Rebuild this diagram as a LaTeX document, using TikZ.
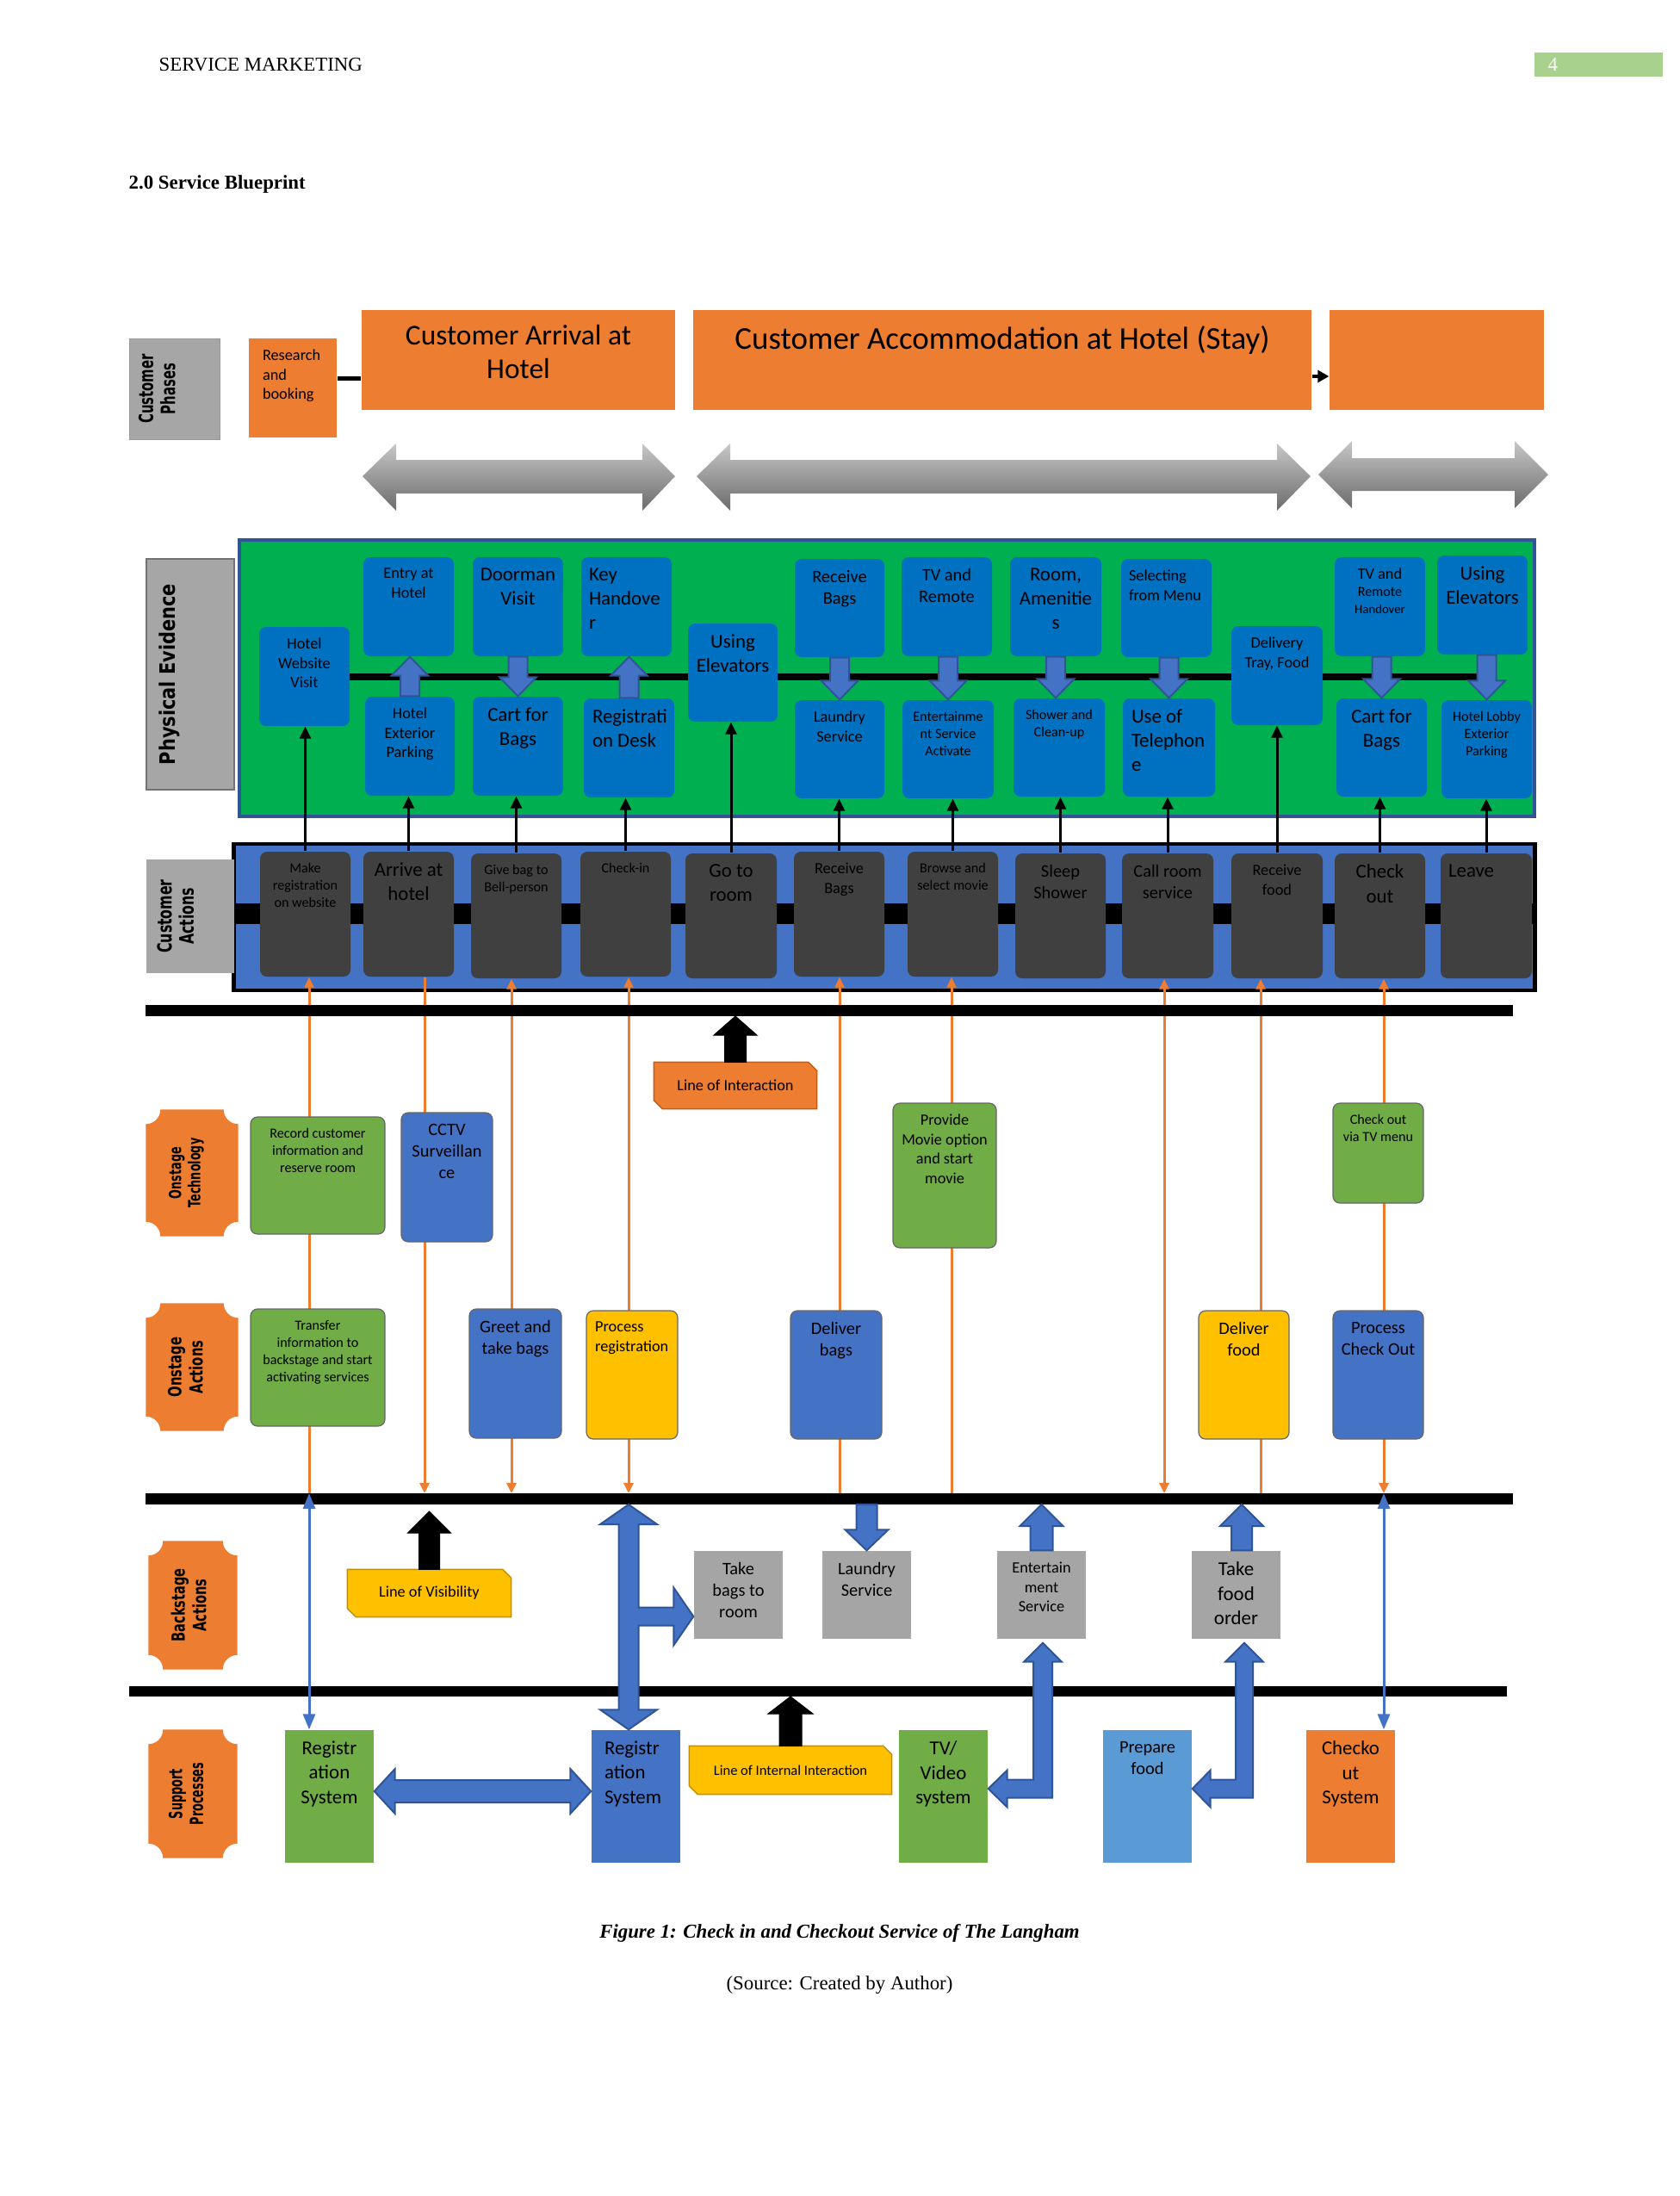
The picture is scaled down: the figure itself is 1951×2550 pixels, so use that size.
\documentclass[tikz,border=0pt]{standalone}
\usepackage{fontspec}
\usepackage{graphicx}
\setmainfont{Liberation Serif}
\newfontfamily\calib{Carlito}
\newfontfamily\dejav{DejaVu Sans}
\usetikzlibrary{arrows.meta,calc}
\definecolor{orng}{HTML}{ED7D31}
\definecolor{orngd}{HTML}{C55A11}
\definecolor{lgray}{HTML}{A6A6A6}
\definecolor{pegreen}{HTML}{00B050}
\definecolor{peblue}{HTML}{0070C0}
\definecolor{bblue}{HTML}{4472C4}
\definecolor{dblue}{HTML}{2F5597}
\definecolor{dgray}{HTML}{404040}
\definecolor{ogreen}{HTML}{70AD47}
\definecolor{yell}{HTML}{FFC000}
\definecolor{yelld}{HTML}{BF9000}
\definecolor{bgray}{HTML}{A5A5A5}
\definecolor{lblue}{HTML}{5B9BD5}
\definecolor{pgreen}{HTML}{A9D18E}
\pgfdeclarelayer{L0}\pgfdeclarelayer{L1}\pgfsetlayers{L0,L1,main}
\newcommand\fzA{\calib\fontsize{6.5}{8}\selectfont}
\newcommand\fzB{\calib\fontsize{5.8}{7.1}\selectfont}
\newcommand\fzC{\calib\fontsize{5.2}{6.4}\selectfont}
\newcommand\fzD{\calib\fontsize{4.6}{5.7}\selectfont}
\newcommand\fzL[2]{\dejav\bfseries\fontsize{#1}{#2}\selectfont}
\tikzset{
 tA/.style={font=\fzA}, tB/.style={font=\fzB}, tC/.style={font=\fzC}, tD/.style={font=\fzD},
 txt/.style={anchor=north, align=center, inner sep=0pt, text=black},
 txtl/.style={anchor=north west, align=left, inner sep=0pt, text=black},
 phbox/.style={fill=orng, inner sep=0pt},
 pebox/.style={fill=peblue, rounded corners=0.08cm, inner sep=0pt},
 cabox/.style={fill=dgray, rounded corners=0.08cm, inner sep=0pt},
 ogbox/.style={fill=ogreen, draw=black!60, line width=0.012cm, rounded corners=0.08cm, inner sep=0pt},
 obbox/.style={fill=bblue, draw=black!60, line width=0.012cm, rounded corners=0.08cm, inner sep=0pt},
 oybox/.style={fill=yell, draw=black!60, line width=0.012cm, rounded corners=0.08cm, inner sep=0pt},
 bsbox/.style={fill=bgray, inner sep=0pt},
 spg/.style={fill=ogreen, inner sep=0pt},
 spb/.style={fill=bblue, inner sep=0pt},
 spl/.style={fill=lblue, inner sep=0pt},
 spo/.style={fill=orng, inner sep=0pt},
 glabel/.style={fill=lgray, inner sep=0pt},
 blk/.style={fill=bblue, draw=dblue, line width=0.02cm},
 blkk/.style={fill=black, draw=black, line width=0.01cm},
 hline/.style={line width=0.13cm},
 otip/.tip={Triangle[length=0.12cm,width=0.11cm]},
 ktip/.tip={Triangle[length=0.14cm,width=0.13cm]},
 btip/.tip={Triangle[length=0.18cm,width=0.14cm]},
 bar/.style={line width=0.03cm, -ktip},
 oline/.style={draw=orng, line width=0.03cm},
 bline/.style={draw=bblue, line width=0.03cm, btip-btip},
}
\newcommand\bx[8]{%
  \node[#6,minimum width={(#4-#2)*0.01cm},minimum height={(#5-#3)*0.01cm}] (#1) at ({(#2+#4)/2},{(#3+#5)/2}) {};
  \node[txt,#7] (#1-t) at ([yshift=-0.13cm]#1.north) {#8};}
\newcommand\bxl[9]{%
  \node[#6,minimum width={(#4-#2)*0.01cm},minimum height={(#5-#3)*0.01cm}] (#1) at ({(#2+#4)/2},{(#3+#5)/2}) {};
  \node[txtl,#7] (#1-t) at ([xshift=#9,yshift=-0.13cm]#1.north west) {#8};}
\newcommand\glab[9]{%
  \node[#6,minimum width={(#4-#2)*0.01cm},minimum height={(#5-#3)*0.01cm}] (#1) at ({(#2+#4)/2},{(#3+#5)/2}) {};
  \node[rotate=90,inner sep=0pt,font=#8] (#1-t) at ($(#1.center)+(#7,0)$) {#9};}
\newcommand\plaque[8]{%
  \node[inner sep=0pt,minimum width={(#4-#2)*0.01cm},minimum height={(#5-#3)*0.01cm}] (#1) at ({(#2+#4)/2},{(#3+#5)/2}) {};
  \fill[orng] ($(#1.north west)+(17,0)$) -- ($(#1.north east)+(-17,0)$) arc[start angle=180,end angle=270,radius=0.17cm] -- ($(#1.south east)+(0,-17)$) arc[start angle=90,end angle=180,radius=0.17cm] -- ($(#1.south west)+(17,0)$) arc[start angle=0,end angle=90,radius=0.17cm] -- ($(#1.north west)+(0,17)$) arc[start angle=270,end angle=360,radius=0.17cm] -- cycle;
  \node[rotate=90,inner sep=0pt,font=#7] (#1-t) at ($(#1.center)+(#6,0)$) {#8};}
\newcommand\snip[9]{%
  \node[inner sep=0pt,minimum width={(#4-#2)*0.01cm},minimum height={(#5-#3)*0.01cm}] (#1) at ({(#2+#4)/2},{(#3+#5)/2}) {};
  \filldraw[fill=#6,draw=#7,line width=0.015cm] (#1.north west) -- ($(#1.north east)+(-10,0)$) -- ($(#1.north east)+(0,10)$) -- (#1.south east) -- ($(#1.south west)+(10,0)$) -- ($(#1.south west)+(0,-10)$) -- cycle;
  \node[inner sep=0pt,font=#8] (#1-t) at (#1.center) {#9};}
\newcommand\vblk[6]{%
  \coordinate (vt) at (#2); \coordinate (vh) at (#3);
  \draw[#1] ($(vt)+(-#4,0)$) -- ($(vh)+(-#4,#6)$) -- ($(vh)+(-#5,#6)$) -- (vh) -- ($(vh)+(#5,#6)$) -- ($(vh)+(#4,#6)$) -- ($(vt)+(#4,0)$) -- cycle;}
\begin{document}
\begin{tikzpicture}[x=0.01cm,y=-0.01cm]
\useasboundingbox (0,0) rectangle (1951,2550);
\begin{pgfonlayer}{L0}
\fill[white] (0,0) rectangle (1951,2550);
\node[fill=pegreen,draw=dblue,line width=0.04cm,inner sep=0pt,minimum width=15.04cm,minimum height=3.21cm] (pebg) at (1030,787.5) {};
\node[fill=bblue,draw=black,line width=0.045cm,inner sep=0pt,minimum width=15.1cm,minimum height=1.7cm] (cabg) at (1027,1065) {};
\end{pgfonlayer}
% header
\node[anchor=west,inner sep=0pt,font=\fontsize{6.5}{8}\selectfont] (hdr) at (184,75) {SERVICE MARKETING};
\node[fill=pgreen,inner sep=0pt,minimum width=1.49cm,minimum height=0.28cm] (pgbox) at (1856.5,75) {};
\node[anchor=west,inner sep=0pt,text=white,font=\fontsize{6.5}{8}\selectfont] (pgnum) at (1797,75) {4};
\node[anchor=west,inner sep=0pt,font=\bfseries\fontsize{6.5}{8}\selectfont] (ttl) at (149,214) {2.0 Service Blueprint};
% phases
\glab{phlab}{150}{393}{255}{510}{glabel,draw=black!40,line width=0.01cm}{-17}{\fzL{6.5}{7.3}}{\scalebox{0.65}[1]{\begin{tabular}{@{}c@{}}Customer\\Phases\end{tabular}}}
\bxl{research}{289}{393}{391}{508}{phbox}{tC}{Research\\and\\booking}{0.16cm}
\bx{arrival}{420}{360}{784}{476}{phbox}{font={\calib\fontsize{9.5}{11.1}\selectfont},yshift=-0.04cm}{Customer Arrival at\\Hotel}
\bx{stay}{805}{360}{1523}{476}{phbox}{font={\calib\fontsize{10.5}{12.7}\selectfont},yshift=-0.05cm}{Customer Accommodation at Hotel (Stay)}
\bx{depart}{1544}{360}{1793}{476}{phbox}{tC}{}
\coordinate (c1) at ($(research.east)+(0,-11)$);
\draw[line width=0.05cm] (c1) -- (c1 -| arrival.west);
\coordinate (c2) at ($(stay.east)+(0,19)$);
\draw[line width=0.04cm,-{Triangle[length=0.13cm,width=0.14cm]}] (c2) -- (c2 -| depart.west);
\shade[top color=black!22,bottom color=black!58] (421,553) -- (460,515) -- (460,534) -- (746,534) -- (746,515) -- (784,553) -- (746,593) -- (746,573) -- (460,573) -- (460,593) -- cycle;
\shade[top color=black!22,bottom color=black!58] (809,553) -- (848,515) -- (848,534) -- (1483,534) -- (1483,515) -- (1522,553) -- (1483,593) -- (1483,573) -- (848,573) -- (848,593) -- cycle;
\shade[top color=black!22,bottom color=black!58] (1531,551) -- (1570,512) -- (1570,532) -- (1759,532) -- (1759,512) -- (1798,551) -- (1759,590) -- (1759,570) -- (1570,570) -- (1570,590) -- cycle;
% physical evidence
\glab{pelab}{170}{649}{272}{917}{glabel,draw=black!55,line width=0.015cm}{-24}{\fzL{7}{8}}{\scalebox{0.85}[1]{Physical Evidence}}
\bx{peA}{301}{728}{406}{843}{pebox}{tC}{Hotel\\Website\\Visit}
\bx{peB}{422}{647}{527}{762}{pebox}{tC}{Entry at\\Hotel}
\bx{peC}{549}{647}{654}{762}{pebox}{tA}{Doorman\\Visit}
\bxl{peD}{675}{647}{780}{762}{pebox}{tA}{Key\\Handove\\r}{0.09cm}
\bx{peE}{799}{724}{903}{838}{pebox}{tA}{Using\\Elevators}
\bx{peF}{923}{649}{1027}{763}{pebox}{tB}{Receive\\Bags}
\bx{peG}{1047}{647}{1152}{762}{pebox}{tB}{TV and\\Remote}
\bx{peH}{1173}{647}{1279}{762}{pebox}{tA}{Room,\\Amenitie\\s}
\bxl{peI}{1302}{649}{1407}{763}{pebox}{tC}{Selecting\\from Menu}{0.09cm}
\bx{peJ}{1430}{727}{1536}{842}{pebox}{tC}{Delivery\\Tray, Food}
\bx{peK}{1550}{647}{1655}{762}{pebox}{tD}{{\fzC TV and}\\Remote\\{\calib\fontsize{4.2}{5.2}\selectfont Handover}}
\bx{peL}{1669}{645}{1774}{760}{pebox}{tA}{Using\\Elevators}
\bx{pbB}{424}{809}{528}{924}{pebox}{tC}{Hotel\\Exterior\\Parking}
\bx{pbC}{549}{809}{654}{924}{pebox}{tA}{Cart for\\Bags}
\bxl{pbD}{678}{811}{783}{926}{pebox}{tA}{Registrati\\on Desk}{0.1cm}
\bx{pbF}{923}{813}{1027}{927}{pebox}{tC}{Laundry\\Service}
\bx{pbG}{1048}{813}{1154}{927}{pebox}{tD}{Entertainme\\nt Service\\Activate}
\bx{pbH}{1177}{811}{1283}{925}{pebox}{tD}{Shower and\\Clean-up}
\bxl{pbI}{1304}{811}{1411}{925}{pebox}{tA}{Use of\\Telephon\\e}{0.1cm}
\bx{pbK}{1552}{811}{1657}{925}{pebox}{tA}{Cart for\\Bags}
\bx{pbL}{1674}{813}{1779}{927}{pebox}{tD}{Hotel Lobby\\Exterior\\Parking}
\vblk{blk}{pbB.north}{pbB.north |- peB.south}{11}{21.5}{22}
\vblk{blk}{pbD.north}{pbD.north |- peD.south}{11}{21.5}{22}
\vblk{blk}{peC.south}{peC.south |- pbC.north}{11}{21.5}{-22}
\vblk{blk}{peF.south}{peF.south |- pbF.north}{11}{21.5}{-22}
\vblk{blk}{pbG.north |- peG.south}{pbG.north}{11}{21.5}{-22}
\vblk{blk}{peH.south}{peH.south |- pbH.north}{11}{21.5}{-22}
\vblk{blk}{pbI.north |- peI.south}{pbI.north}{11}{21.5}{-22}
\vblk{blk}{pbK.north |- peK.south}{pbK.north}{11}{21.5}{-22}
\vblk{blk}{pbL.north |- peL.south}{pbL.north}{11}{21.5}{-22}
% customer actions
\glab{calab}{170}{998}{272}{1130}{glabel}{-14}{\fzL{6.5}{7.3}}{\scalebox{0.69}[1]{\begin{tabular}{@{}c@{}}Customer\\Actions\end{tabular}}}
\bx{ca1}{302}{989}{407}{1134}{cabox}{tD}{Make\\registration\\on website}
\bx{ca2}{422}{989}{527}{1134}{cabox}{tA}{Arrive at\\hotel}
\bx{ca3}{547}{991}{652}{1136}{cabox}{tD}{Give bag to\\Bell-person}
\bx{ca4}{674}{989}{779}{1134}{cabox}{tD}{Check-in}
\bx{ca5}{796}{991}{902}{1136}{cabox}{tA}{Go to\\room}
\bx{ca6}{922}{989}{1027}{1134}{cabox}{tC}{Receive\\Bags}
\bx{ca7}{1054}{989}{1159}{1134}{cabox}{tD}{Browse and\\select movie}
\bx{ca8}{1179}{991}{1284}{1136}{cabox}{tB}{Sleep\\Shower}
\bx{ca9}{1303}{991}{1409}{1136}{cabox}{tB}{Call room\\service}
\bx{ca10}{1430}{991}{1536}{1136}{cabox}{tC}{Receive\\food}
\bx{ca11}{1550}{991}{1655}{1136}{cabox}{tA}{Check\\out}
\bxl{ca12}{1673}{991}{1779}{1136}{cabox}{tA}{Leave}{0.09cm}
% column coordinates
\coordinate (o1) at ($(ca1.south)+(4.5,0)$);
\coordinate (o2) at ($(ca2.south)+(18.5,0)$);
\coordinate (o3) at ($(ca3.south)+(-5.5,0)$);
\coordinate (o4) at ($(ca4.south)+(3.5,0)$);
\coordinate (o5) at ($(ca6.south)+(0.5,0)$);
\coordinate (o6) at ($(ca7.south)+(-1.5,0)$);
\coordinate (o7) at ($(ca9.south)+(-4,0)$);
\coordinate (o8) at ($(ca10.south)+(-19,0)$);
\coordinate (o9) at ($(ca11.south)+(4.5,0)$);
\coordinate (lov) at (0,1740.5);
\coordinate (lovT) at (0,1734);
\coordinate (lovB) at (0,1747);
\coordinate (lovV) at (0,1755);
\coordinate (loiB) at (0,1180);
\coordinate (liiB) at (0,1970);
% lane labels
\plaque{ontech}{170}{1289}{276}{1435}{-6}{\fzL{5.5}{6.3}}{\scalebox{0.66}[1]{\begin{tabular}{@{}c@{}}Onstage\\Technology\end{tabular}}}
\plaque{onact}{170}{1514}{276}{1661}{-5}{\fzL{6}{7.1}}{\scalebox{0.7}[1]{\begin{tabular}{@{}c@{}}Onstage\\Actions\end{tabular}}}
\plaque{backst}{173}{1790}{275}{1938}{-2}{\fzL{6}{7.1}}{\scalebox{0.69}[1]{\begin{tabular}{@{}c@{}}Backstage\\Actions\end{tabular}}}
\plaque{suppr}{173}{2009}{275}{2157}{-5}{\fzL{6}{6.9}}{\scalebox{0.61}[1]{\begin{tabular}{@{}c@{}}Support\\Processes\end{tabular}}}
% onstage technology
\bx{ot1}{291}{1297}{447}{1433}{ogbox}{tD}{Record customer\\information and\\reserve room}
\bx{ot2}{466}{1292}{572}{1442}{obbox}{tB}{CCTV\\Surveillan\\ce}
\bx{ot3}{1037}{1281}{1157}{1449}{ogbox}{tC}{Provide\\Movie option\\and start\\movie}
\bx{ot4}{1548}{1281}{1653}{1397}{ogbox}{tD}{Check out\\via TV menu}
% onstage actions
\bx{oa1}{291}{1520}{447}{1656}{ogbox}{tD}{Transfer\\information to\\backstage and start\\activating services}
\bx{oa2}{545}{1520}{652}{1670}{obbox}{tB}{Greet and\\take bags}
\bxl{oa3}{681}{1522}{787}{1671}{oybox}{tC}{Process\\registration}{0.1cm}
\bx{oa4}{918}{1522}{1024}{1671}{obbox}{tB}{Deliver\\bags}
\bx{oa5}{1392}{1522}{1497}{1671}{oybox}{tB}{Deliver\\food}
\bx{oa6}{1548}{1522}{1653}{1671}{obbox}{tB}{Process\\Check Out}
% backstage
\bx{bs1}{806}{1801}{909}{1903}{bsbox}{tB}{Take\\bags to\\room}
\bx{bs2}{955}{1801}{1058}{1903}{bsbox}{tB}{Laundry\\Service}
\bx{bs3}{1158}{1801}{1261}{1903}{bsbox}{tC}{Entertain\\ment\\Service}
\bx{bs4}{1384}{1801}{1487}{1903}{bsbox}{tA}{Take\\food\\order}
% support
\bx{sp1}{331}{2009}{434}{2163}{spg}{tA}{Registr\\ation\\System}
\bxl{sp2}{687}{2009}{790}{2163}{spb}{tA}{Registr\\ation\\System}{0.15cm}
\bx{sp3}{1044}{2009}{1147}{2163}{spg}{tA}{TV/\\Video\\system}
\bx{sp4}{1281}{2009}{1384}{2163}{spl}{tB}{Prepare\\food}
\bx{sp5}{1517}{2009}{1620}{2163}{spo}{tA}{Checko\\ut\\System}
% horizontal lines
\coordinate (loiL) at (169,1173.5); \coordinate (loiR) at (1757,1173.5);
\coordinate (lovL) at (169,1740.5); \coordinate (lovR) at (1757,1740.5);
\coordinate (liiL) at (150,1964); \coordinate (liiR) at (1750,1964);
\draw[hline] (loiL) -- (loiR);
\draw[hline] (lovL) -- (lovR);
\draw[line width=0.12cm] (liiL) -- (liiR);
% line labels
\snip{loilab}{760}{1234}{948}{1287}{orng}{orngd}{\calib\fontsize{5.2}{6.4}\selectfont}{Line of Interaction}
\snip{lovlab}{404}{1823}{593}{1877}{yell}{yelld}{\calib\fontsize{5.2}{6.4}\selectfont}{Line of Visibility}
\snip{liilab}{801}{2028}{1035}{2083}{yell}{yelld}{\calib\fontsize{4.7}{5.8}\selectfont}{Line of Internal Interaction}
\vblk{blkk}{loilab.north}{loilab.north |- loiB}{12.5}{25}{22}
\vblk{blkk}{lovlab.north}{lovlab.north |- lovV}{12}{25}{25}
\vblk{blkk}{liilab.north}{liilab.north |- liiB}{13}{26}{20}
% backstage block arrows
\vblk{blk}{bs2.north |- lovB}{bs2.north}{12}{25}{-24}
\vblk{blk}{bs3.north}{bs3.north |- lovB}{13}{25}{25}
\coordinate (tf) at ($(bs4.north)+(6.5,0)$);
\vblk{blk}{tf}{tf |- lovB}{12}{25}{25}
\coordinate (rT) at (o4 |- lovB);
\coordinate (rB) at (o4 |- sp2.north);
\coordinate (rR) at ($(bs1.west)+(0,25)$);
\coordinate (rC) at (rT |- rR);
\draw[blk] (rT) -- ($(rT)+(33,23)$) -- ($(rT)+(11.5,23)$) -- ($(rC)+(11.5,-10.5)$) -- ($(rR)+(-23,-10.5)$) -- ($(rR)+(-23,-33.5)$) -- (rR) -- ($(rR)+(-23,33.5)$) -- ($(rR)+(-23,10.5)$) -- ($(rC)+(11.5,10.5)$) -- ($(rB)+(11.5,-23)$) -- ($(rB)+(33,-23)$) -- (rB) -- ($(rB)+(-33,-23)$) -- ($(rB)+(-11.5,-23)$) -- ($(rT)+(-11.5,23)$) -- ($(rT)+(-33,23)$) -- cycle;
\coordinate (hL) at ($(sp1.east)+(0,-6)$);
\coordinate (hR) at ($(sp2.west)+(0,-6)$);
\draw[blk] (hL) -- ($(hL)+(24,-26)$) -- ($(hL)+(24,-13)$) -- ($(hR)+(-24,-13)$) -- ($(hR)+(-24,-26)$) -- (hR) -- ($(hR)+(-24,26)$) -- ($(hR)+(-24,13)$) -- ($(hL)+(24,13)$) -- ($(hL)+(24,26)$) -- cycle;
\coordinate (eU) at ($(bs3.south)+(1.5,4)$);
\coordinate (eL) at ($(sp3.east)+(0,-9)$);
\coordinate (eC) at (eU |- eL);
\draw[blk] (eU) -- ($(eU)+(22,22)$) -- ($(eU)+(11,22)$) -- ($(eC)+(11,10.5)$) -- ($(eL)+(22,10.5)$) -- ($(eL)+(22,21.5)$) -- (eL) -- ($(eL)+(22,-21.5)$) -- ($(eL)+(22,-10.5)$) -- ($(eC)+(-11,-10.5)$) -- ($(eU)+(-11,22)$) -- ($(eU)+(-22,22)$) -- cycle;
\coordinate (fU) at ($(bs4.south)+(9.5,4)$);
\coordinate (fL) at ($(sp4.east)+(0,-9)$);
\coordinate (fC) at (fU |- fL);
\draw[blk] (fU) -- ($(fU)+(22,22)$) -- ($(fU)+(10,22)$) -- ($(fC)+(10,10.5)$) -- ($(fL)+(21,10.5)$) -- ($(fL)+(21,21.5)$) -- (fL) -- ($(fL)+(21,-21.5)$) -- ($(fL)+(21,-10.5)$) -- ($(fC)+(-10,-10.5)$) -- ($(fU)+(-10,22)$) -- ($(fU)+(-22,22)$) -- cycle;
\draw[bline] (o1 |- lovT) -- (o1 |- sp1.north);
\draw[bline] (o9 |- lovT) -- (o9 |- sp5.north);
% caption
\node[inner sep=0pt,font=\bfseries\itshape\fontsize{6.5}{8}\selectfont] (cap) at (975,2245) {Figure 1: Check in and Checkout Service of The Langham};
\node[inner sep=0pt,font=\fontsize{6.5}{8}\selectfont] (src) at (975,2305) {(Source: Created by Author)};
% under-layer connectors
\begin{pgfonlayer}{L1}
\draw[line width=0.08cm] (peA.center) -- (peA.center -| peL.center);
\draw[line width=0.24cm] ($(cabg.west)+(0,-4)$) -- ($(cabg.east)+(0,-4)$);
\foreach \a/\b in {ca1/peA,ca2/pbB,ca3/pbC,ca4/pbD,ca5/peE,ca6/pbF,ca7/pbG,ca8/pbH,ca9/pbI,ca10/peJ,ca11/pbK,ca12/pbL}{\draw[bar] (\a.north) -- (\a.north |- \b.south);}
\draw[oline,otip-] (o1) -- (o1 |- lovT);
\draw[oline,-otip] (o2) -- (o2 |- lovT);
\draw[oline,otip-otip] (o3) -- (o3 |- lovT);
\draw[oline,otip-otip] (o4) -- (o4 |- lovT);
\draw[oline,otip-] (o5) -- (o5 |- lov);
\draw[oline,otip-] (o6) -- (o6 |- lov);
\draw[oline,otip-otip] (o7) -- (o7 |- lovT);
\draw[oline,otip-] (o8) -- (o8 |- lov);
\draw[oline,otip-otip] (o9) -- (o9 |- lovT);
\end{pgfonlayer}
\end{tikzpicture}
\end{document}
